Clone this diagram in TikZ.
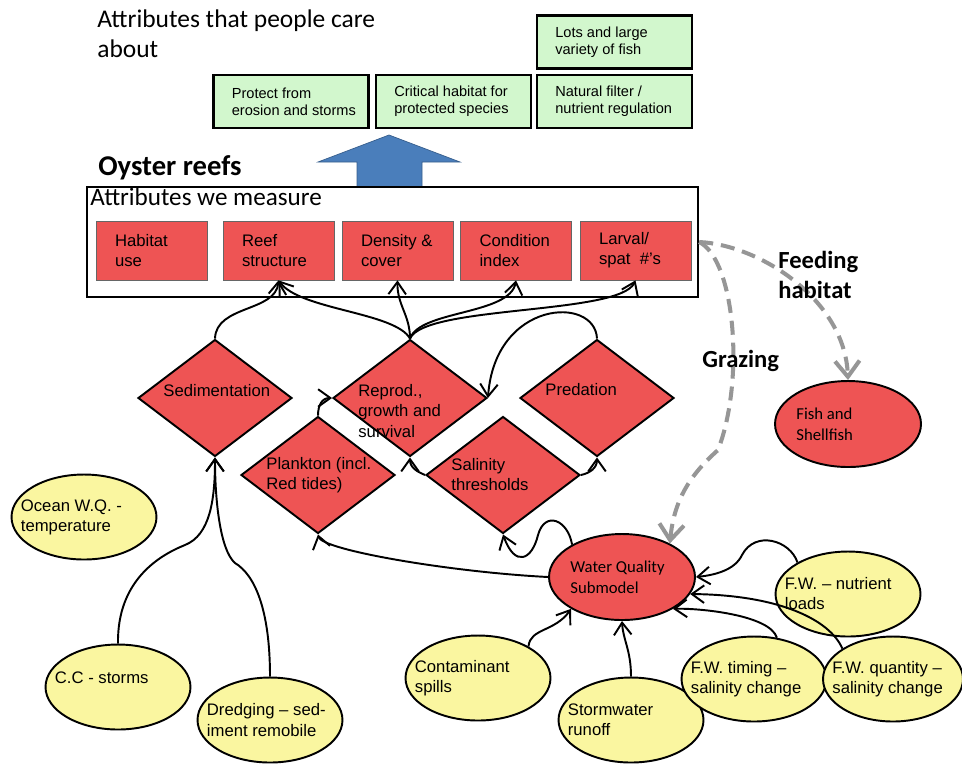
\documentclass[tikz,border=0pt]{standalone}
\usepackage{fontspec}
\setmainfont{Liberation Sans}
\newfontfamily\calfont{Carlito}
\usetikzlibrary{shapes.geometric,arrows.meta}
\definecolor{reefred}{RGB}{238,84,84}
\definecolor{drvyellow}{RGB}{250,246,160}
\definecolor{caregreen}{RGB}{210,247,205}
\definecolor{upblue}{RGB}{74,126,187}
\definecolor{flowgray}{RGB}{150,150,150}
\begin{document}
\begin{tikzpicture}[x=0.02cm, y=-0.02cm,
  greenbox/.style={draw, line width=1.2pt, fill=caregreen, minimum width=3.1cm, minimum height=1.06cm},
  greentxt/.style={anchor=west, inner xsep=0.38cm, align=left, font=\fontsize{8.3}{9.7}\selectfont},
  redbox/.style={draw=black!60, fill=reefred, minimum width=2.22cm, minimum height=1.18cm},
  redtxt/.style={anchor=west, inner xsep=0.38cm, align=left, font=\fontsize{9.5}{11.4}\selectfont},
  factor/.style={diamond, draw, line width=1.1pt, fill=reefred, minimum width=3.08cm, minimum height=2.34cm, inner sep=0pt},
  factortxt/.style={anchor=west, inner xsep=0.52cm, align=left, font=\fontsize{9.5}{11.4}\selectfont},
  driver/.style={ellipse, draw, line width=1.1pt, fill=drvyellow, minimum width=2.9cm, minimum height=1.7cm},
  drivertxt/.style={anchor=west, inner xsep=0.2cm, align=left, font=\fontsize{9.5}{11.4}\selectfont},
  submodel/.style={ellipse, draw, line width=1.1pt, fill=reefred, minimum width=2.92cm, minimum height=1.72cm},
  submodeltxt/.style={anchor=west, inner xsep=0.44cm, align=left, font=\calfont\fontsize{9.5}{12}\selectfont},
  heading/.style={inner sep=0pt, align=left, font=\calfont\fontsize{14.5}{17}\selectfont},
  link/.style={line width=1.1pt, -{Straight Barb[length=7pt,width=10pt]}},
  flow/.style={line width=2.3pt, draw=flowgray, dash pattern=on 8pt off 4.5pt, -{Straight Barb[length=9pt,width=14pt]}}]
\useasboundingbox (0,0) rectangle (962,765);

% what people care about
\node[heading, anchor=west] (careTitle) at (97,34) {Attributes that people care\\about};
\node[greenbox] (lots) at (614.5,42) {};
\node[greentxt] (lotst) at (lots.west) {Lots and large\\variety of fish};
\node[greenbox] (prot) at (291,101.5) {};
\node[greentxt] (prott) at (prot.west) {Protect from\\erosion and storms};
\node[greenbox] (crit) at (453.5,101.5) {};
\node[greentxt] (critt) at (crit.west) {Critical habitat for\\protected species};
\node[greenbox] (filt) at (614.5,101.5) {};
\node[greentxt] (filtt) at (filt.west) {Natural filter /\\nutrient regulation};

% big blue arrow
\draw[draw=upblue!75!black, fill=upblue] (357,188) -- (357,162) -- (318,162) -- (389,135) -- (460,162) -- (422,162) -- (422,188) -- cycle;

% what we measure
\node[anchor=base west, inner sep=0pt, font=\calfont\bfseries\fontsize{16.3}{19}\selectfont] (oyster) at (98,175) {Oyster reefs};
\node[draw, line width=1.4pt, fill=white, minimum width=12.22cm, minimum height=2.2cm] (meas) at (392.5,242) {};
\node[anchor=base west, inner sep=0pt, font=\calfont\fontsize{14.3}{17}\selectfont] (measTitle) at (90,205) {Attributes we measure};
\node[redbox] (hab) at (151.5,250.5) {};
\node[redtxt] (habt) at (hab.west) {Habitat\\use};
\node[redbox] (reef) at (278.5,250.5) {};
\node[redtxt] (reeft) at (reef.west) {Reef\\structure};
\node[redbox] (dens) at (397.5,250.5) {};
\node[redtxt] (denst) at (dens.west) {Density \&\\cover};
\node[redbox] (cond) at (516,250.5) {};
\node[redtxt] (condt) at (cond.west) {Condition\\index};
\node[redbox] (larv) at (635.5,250.5) {};
\node[redtxt] (larvt) at (larv.west) {Larval/\\spat\ \ \#’s};

% processes
\node[factor] (sed) at (215,398) {};
\node[factortxt, yshift=0.14cm] (sedt) at (sed.west) {Sedimentation};
\node[factor] (repro) at (410,398) {};
\node[factortxt, yshift=-0.26cm] (reprot) at (repro.west) {Reprod.,\\growth and\\survival};
\node[factor] (pred) at (597,398) {};
\node[factortxt, yshift=0.16cm] (predt) at (pred.west) {Predation};
\node[factor] (plank) at (318,475) {};
\node[factortxt] (plankt) at (plank.west) {Plankton (incl.\\Red tides)};
\node[factor] (sal) at (503,475) {};
\node[factortxt] (salt) at (sal.west) {Salinity\\thresholds};

% submodels
\node[submodel] (fishell) at (848,424) {};
\node[submodeltxt] (fishellt) at (fishell.west) {Fish and\\Shellfish};
\node[submodel] (wq) at (622,577) {};
\node[submodeltxt] (wqt) at (wq.west) {Water Quality\\Submodel};

% drivers
\node[driver] (ocean) at (84,517) {};
\node[drivertxt] (oceant) at (ocean.west) {Ocean W.Q. -\\temperature};
\node[driver] (cc) at (118,687) {};
\node[drivertxt, yshift=0.18cm] (cct) at (cc.west) {C.C - storms};
\node[driver] (dredge) at (270,720) {};
\node[drivertxt] (dredget) at (dredge.west) {Dredging – sed-\\iment remobile};
\node[driver] (cont) at (478,678) {};
\node[drivertxt] (contt) at (cont.west) {Contaminant\\spills};
\node[driver] (storm) at (631,720) {};
\node[drivertxt] (stormt) at (storm.west) {Stormwater\\runoff};
\node[driver] (nut) at (848,594) {};
\node[drivertxt] (nutt) at (nut.west) {F.W. – nutrient\\loads};
\node[driver] (tim) at (754,679) {};
\node[drivertxt] (timt) at (tim.west) {F.W. timing –\\salinity change};
\node[driver, minimum width=2.8cm] (qty) at (893,679) {};
\node[drivertxt] (qtyt) at (qty.west) {F.W. quantity –\\salinity change};

% links
\draw[link] (sed.north) .. controls (216,305) and (276,312) .. (reef.south);
\draw[link] (repro.north) .. controls (395,312) and (300,310) .. (reef.south);
\draw[link] (repro.north) .. controls (410,315) and (397,305) .. (dens.south);
\draw[link] (repro.north) .. controls (420,310) and (510,315) .. (cond.south);
\draw[link] (repro.north) .. controls (425,305) and (620,315) .. (larv.south);
\draw[link] (pred.north) .. controls (595,295) and (495,300) .. (repro.east);
\draw[link] (plank.north) .. controls (318,405) and (322,398) .. (repro.west);
\draw[link] (sal.west) .. controls (418,472) and (410,468) .. (repro.south);
\draw[link] (sal.east) .. controls (590,473) and (597,468) .. (pred.south);
\draw[link] (wq.west) .. controls (450,572) and (322,550) .. (plank.south);
\draw[link] (wq.147) .. controls (568,520) and (545,510) .. (538,535) .. controls (532,560) and (515,568) .. (sal.south);
\draw[link] (cc.north) .. controls (117,580) and (160,555) .. (185,545) .. controls (210,535) and (215,500) .. (sed.south);
\draw[link] (dredge.north) .. controls (270,610) and (255,575) .. (235,563) .. controls (220,550) and (215,500) .. (sed.south);
\draw[link] (cont.32) .. controls (530,628) and (555,632) .. (wq.212);
\draw[link] (storm.north) .. controls (631,650) and (623,640) .. (wq.south);
\draw[link] (tim.61) .. controls (770,615) and (700,608) .. (wq.-32);
\draw[link] (qty.149) .. controls (830,620) and (780,595) .. (wq.-14);
\draw[link] (nut.148) .. controls (790,540) and (755,530) .. (742,555) .. controls (735,570) and (715,575) .. (wq.east);

% feeding and grazing
\draw[flow] (meas.east) .. controls (760,245) and (845,300) .. (fishell.north);
\draw[flow] (meas.east) .. controls (735,260) and (745,380) .. (718,450) .. controls (690,475) and (674,500) .. (wq.35);
\node[anchor=west, inner sep=0pt, align=left, font=\calfont\bfseries\fontsize{14}{17}\selectfont] (feedlbl) at (778,275) {Feeding\\habitat};
\node[anchor=base west, inner sep=0pt, font=\calfont\bfseries\fontsize{14}{17}\selectfont] (grazelbl) at (702,367) {Grazing};
\end{tikzpicture}
\end{document}
